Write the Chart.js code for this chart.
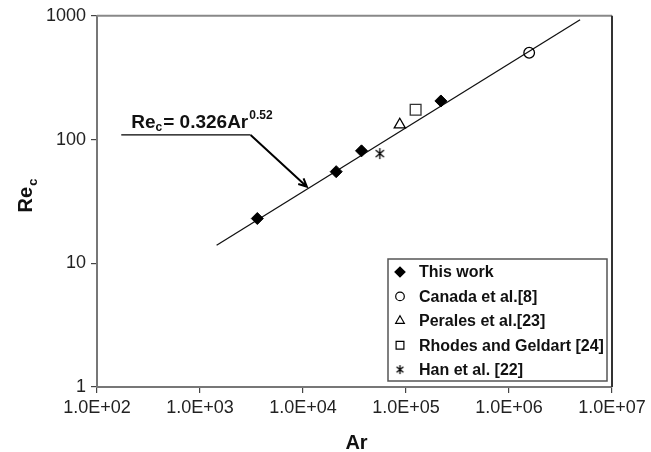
<!DOCTYPE html>
<html>
<head>
<meta charset="utf-8">
<script src="https://cdn.jsdelivr.net/npm/chart.js@4.4.1/dist/chart.umd.min.js"></script>
<style>
  html,body{margin:0;padding:0;background:#fff;}
  #box{width:651px;height:452px;}
</style>
</head>
<body>
<div id="box"><canvas id="chart1"></canvas></div>
<script>
// ticks
const arTicks = [1e2, 1e3, 1e4, 1e5, 1e6, 1e7];
const reTicks = [1, 10, 100, 1000];

// series
const thisWorkAr = [3600, 21000, 37000, 218000];
const thisWorkRe = [23, 55, 81, 205];
const canadaAr = [1.57e6];
const canadaRe = [503];
const peralesAr = [87000];
const peralesRe = [132];
const rhodesAr = [124000];
const rhodesRe = [174];
const hanAr = [55700];
const hanRe = [77];
const fitAr = [1450, 4.9e6];
const fitRe = [14, 930];

const labels = ["This work", "Canada et al.[8]", "Perales et al.[23]", "Rhodes and Geldart [24]", "Han et al. [22]"];

function pts(xs, ys){
    return xs.map((x,i)=>({x:x, y:ys[i]}));
}

// asterisk marker (x plus vertical bar)
function asterisk(size){
    const c = document.createElement("canvas");
    c.width = size; c.height = size;
    const g = c.getContext("2d");
    const m = size/2, r = size/2 - 1;
    g.strokeStyle = "#000";
    g.lineWidth = 1.3;
    g.beginPath();
    g.moveTo(m, m-r); g.lineTo(m, m+r);
    const a = r*0.75, b = r*0.62;
    g.moveTo(m-a, m-b); g.lineTo(m+a, m+b);
    g.moveTo(m-a, m+b); g.lineTo(m+a, m-b);
    g.stroke();
    return c;
}

function expLabel(v){
    const e = Math.round(Math.log10(v));
    return "1.0E+" + (e < 10 ? "0" + e : e);
}

const font = "'Liberation Sans', Arial, sans-serif";

// frame, annotation, axis titles, legend
const extras = {
    id:"extras",
    afterDatasetsDraw(chart){
        const ctx = chart.ctx;
        const a = chart.chartArea;
        const xs = chart.scales.x, ys = chart.scales.y;
        ctx.save();

        // top and right border
        ctx.lineWidth = 2;
        ctx.strokeStyle = "#888";
        ctx.beginPath();
        ctx.moveTo(a.left, a.top); ctx.lineTo(a.right, a.top);
        ctx.stroke();
        ctx.strokeStyle = "#333";
        ctx.beginPath();
        ctx.moveTo(a.right, a.top); ctx.lineTo(a.right, a.bottom);
        ctx.stroke();

        // leader line and arrow
        const p0 = {x:xs.getPixelForValue(172), y:ys.getPixelForValue(109)};
        const p1 = {x:xs.getPixelForValue(3100), y:p0.y};
        const p2 = {x:xs.getPixelForValue(10900), y:ys.getPixelForValue(41.6)};
        ctx.strokeStyle = "#000";
        ctx.lineWidth = 1.3;
        ctx.beginPath();
        ctx.moveTo(p0.x, p0.y); ctx.lineTo(p1.x, p1.y);
        ctx.stroke();
        ctx.lineWidth = 2;
        ctx.beginPath();
        ctx.moveTo(p1.x, p1.y); ctx.lineTo(p2.x, p2.y);
        const ang = Math.atan2(p2.y-p1.y, p2.x-p1.x);
        ctx.moveTo(p2.x - 9*Math.cos(ang-0.45), p2.y - 9*Math.sin(ang-0.45));
        ctx.lineTo(p2.x, p2.y);
        ctx.lineTo(p2.x - 9*Math.cos(ang+0.45), p2.y - 9*Math.sin(ang+0.45));
        ctx.stroke();

        // equation text
        ctx.fillStyle = "#111";
        ctx.textBaseline = "alphabetic";
        ctx.textAlign = "left";
        let tx = p0.x + 10, ty = p0.y - 7;
        ctx.font = "bold 19px " + font;
        ctx.fillText("Re", tx, ty); tx += ctx.measureText("Re").width;
        ctx.font = "bold 12px " + font;
        ctx.fillText("c", tx, ty + 3); tx += ctx.measureText("c").width + 1;
        ctx.font = "bold 19px " + font;
        ctx.fillText("= 0.326Ar", tx, ty); tx += ctx.measureText("= 0.326Ar").width + 1;
        ctx.font = "bold 12px " + font;
        ctx.fillText("0.52", tx, ty - 9);

        // axis titles
        ctx.font = "bold 20px " + font;
        ctx.textAlign = "center";
        ctx.fillText("Ar", (a.left + a.right)/2 + 2, 449);
        ctx.save();
        ctx.translate(32, 196);
        ctx.rotate(-Math.PI/2);
        ctx.font = "bold 20px " + font;
        const w1 = ctx.measureText("Re").width;
        ctx.font = "bold 13px " + font;
        const w2 = ctx.measureText("c").width;
        ctx.textAlign = "left";
        ctx.font = "bold 20px " + font;
        ctx.fillText("Re", -(w1+w2)/2, 0);
        ctx.font = "bold 13px " + font;
        ctx.fillText("c", -(w1+w2)/2 + w1 + 1, 5);
        ctx.restore();

        // legend box
        const lx = 388, ly = 259, lw = 219, lh = 122;
        ctx.lineWidth = 1.5;
        ctx.strokeStyle = "#555";
        ctx.strokeRect(lx, ly, lw, lh);
        ctx.font = "bold 16px " + font;
        ctx.textAlign = "left";
        ctx.textBaseline = "middle";
        const legendStyles = ["rectRot", "circle", "triangle", "rect", asterisk(11)];
        const legendRad = [5, 4.3, 5, 5.5, 4];
        chart.data.datasets.slice(0,5).forEach((ds, i)=>{
            const cy = ly + 13 + i*24.4;
            ctx.fillStyle = ds.backgroundColor;
            ctx.strokeStyle = "#000";
            ctx.lineWidth = 1.2;
            Chart.helpers.drawPoint(ctx, {pointStyle:legendStyles[i], radius:legendRad[i], rotation:0, borderWidth:1.2}, lx + 12, cy);
            ctx.fillStyle = "#111";
            ctx.fillText(ds.label, lx + 31, cy + 1);
        });

        ctx.restore();
    }
};

new Chart(
    document.getElementById("chart1"),
    {
        type:"scatter",
        data:{
            datasets:[
                {
                    label:labels[0],
                    data:pts(thisWorkAr, thisWorkRe),
                    pointStyle:"rectRot",
                    pointRadius:6,
                    backgroundColor:"#000",
                    borderColor:"#000",
                    borderWidth:1
                },
                {
                    label:labels[1],
                    data:pts(canadaAr, canadaRe),
                    pointStyle:"circle",
                    pointRadius:5.3,
                    backgroundColor:"rgba(0,0,0,0)",
                    borderColor:"#000",
                    borderWidth:1.3
                },
                {
                    label:labels[2],
                    data:pts(peralesAr, peralesRe),
                    pointStyle:"triangle",
                    pointRadius:6.4,
                    backgroundColor:"rgba(0,0,0,0)",
                    borderColor:"#000",
                    borderWidth:1.3
                },
                {
                    label:labels[3],
                    data:pts(rhodesAr, rhodesRe),
                    pointStyle:"rect",
                    pointRadius:7.6,
                    backgroundColor:"rgba(0,0,0,0)",
                    borderColor:"#333",
                    borderWidth:1.3
                },
                {
                    label:labels[4],
                    data:pts(hanAr, hanRe),
                    pointStyle:asterisk(13),
                    backgroundColor:"rgba(0,0,0,0)",
                    borderColor:"#000"
                },
                {
                    type:"line",
                    label:"fit",
                    data:pts(fitAr, fitRe),
                    pointRadius:0,
                    borderColor:"#111",
                    borderWidth:1.3,
                    fill:false,
                    order:1
                }
            ]
        },
        options:{
            responsive:true,
            maintainAspectRatio:false,
            animation:false,
            layout:{ padding:{ top:15, right:39, left:0, bottom:0 } },
            plugins:{
                legend:{ display:false },
                tooltip:{ enabled:false }
            },
            scales:{
                x:{
                    type:"logarithmic",
                    min:1e2,
                    max:1e7,
                    afterBuildTicks:(s)=>{ s.ticks = arTicks.map(v=>({value:v})); },
                    afterFit:(s)=>{ s.height = 65; },
                    ticks:{
                        callback:(v)=>expLabel(v),
                        color:"#222",
                        font:{ family:font, size:18 },
                        padding:4,
                        maxRotation:0,
                        autoSkip:false
                    },
                    grid:{ drawOnChartArea:false, drawTicks:true, tickLength:6, color:"#444", lineWidth:1.2 },
                    border:{ display:true, color:"#777", width:2 }
                },
                y:{
                    type:"logarithmic",
                    min:1,
                    max:1000,
                    afterBuildTicks:(s)=>{ s.ticks = reTicks.map(v=>({value:v})); },
                    afterFit:(s)=>{ s.width = 97; },
                    ticks:{
                        callback:(v)=>String(v),
                        color:"#222",
                        font:{ family:font, size:18 },
                        padding:5,
                        autoSkip:false
                    },
                    grid:{ drawOnChartArea:false, drawTicks:true, tickLength:6, color:"#444", lineWidth:1.2 },
                    border:{ display:true, color:"#777", width:2 }
                }
            }
        },
        plugins:[extras]
    }
);
</script>
</body>
</html>
